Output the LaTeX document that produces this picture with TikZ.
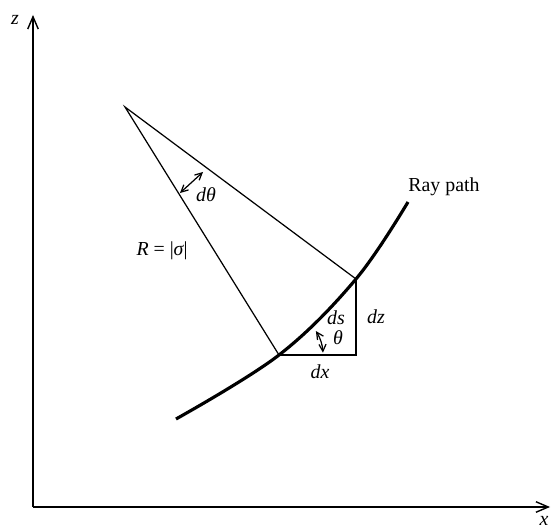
\documentclass[tikz,border=0pt]{standalone}
\usepackage{fontspec}
\setmainfont{Liberation Serif}
\usetikzlibrary{arrows.meta}

\begin{document}
\begin{tikzpicture}[x=0.02cm,y=0.02cm,font=\fontsize{11.3}{13}\selectfont]
  \path[use as bounding box] (0,0) rectangle (551,531);
  \tikzset{axis/.style={line width=.8pt,-{Straight Barb[length=7pt,width=6pt]}},
           leg/.style={line width=.7pt},
           ray/.style={line width=1.8pt},
           twohead/.style={line width=.7pt,{Straight Barb[length=4pt,width=4pt]}-{Straight Barb[length=4pt,width=4pt]}},
           lab/.style={inner sep=1pt}}

  \coordinate (O) at (33,24);
  \coordinate (ztip) at (33,516);
  \coordinate (xtip) at (550,24);
  \coordinate (apex) at (125,424);
  \coordinate (P) at (279,176);
  \coordinate (Q) at (356,252);
  \coordinate (C) at (356,176);
  \coordinate (start) at (176,112);
  \coordinate (end) at (408,329);

  % axes
  \draw[axis] (O) -- (ztip);
  \draw[axis] (O) -- (xtip);
  \node[lab] (zlab) at (15,511) {\itshape z};
  \node[lab] (xlab) at (544,10) {\itshape x};

  % radius lines and the small triangle
  \draw[leg] (P) -- (apex) -- (Q);
  \draw[leg] (P) -- (C) -- (Q);

  % ray path
  \draw[ray] plot[smooth,tension=.6] coordinates {(start) (P) (Q) (end)};
  \node[lab] (raylab) at (444,344) {Ray path};

  % angle marks
  \coordinate (d1) at (180,338);
  \coordinate (d2) at (203,359);
  \draw[twohead] (d1) -- (d2);
  \draw[twohead] ([shift={(3:44)}]P) arc (3:33:44);

  \node[lab] (dtheta) at (206,336) {\itshape dθ};
  \node[lab] (rlab) at (162,280) {\itshape R\upshape\ = |\itshape σ\upshape|};
  \node[lab] (theta) at (338,193) {\itshape θ};
  \node[lab] (ds) at (336,213) {\itshape ds};
  \node[lab] (dz) at (376,214) {\itshape dz};
  \node[lab] (dx) at (320,159) {\itshape dx};
\end{tikzpicture}
\end{document}
